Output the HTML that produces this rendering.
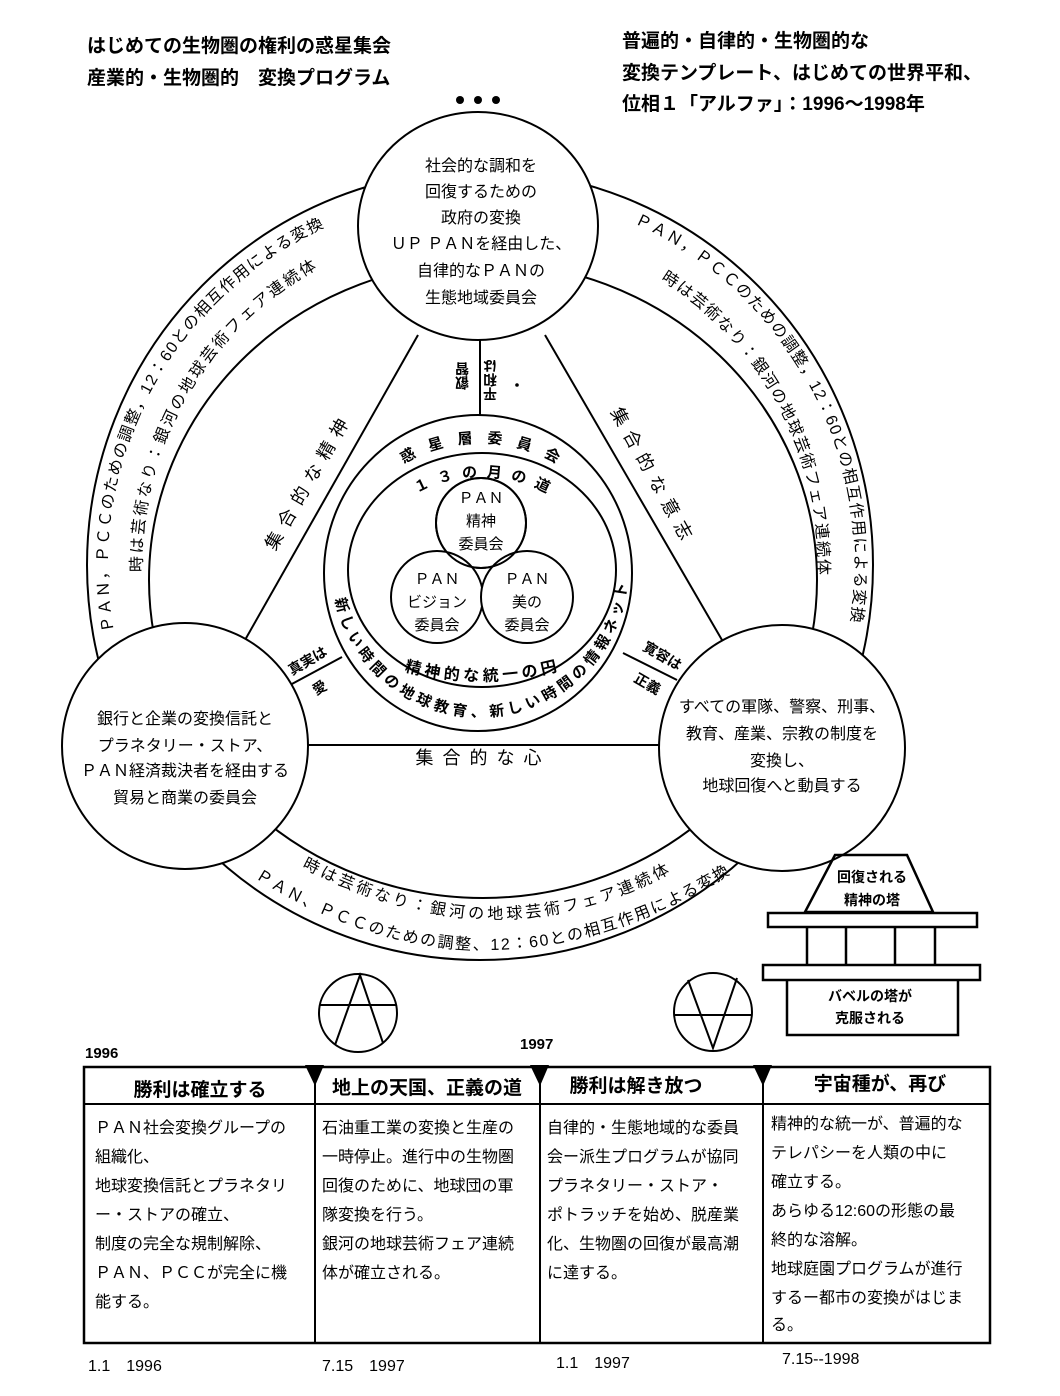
<!DOCTYPE html>
<html><head><meta charset="utf-8"><style>
html,body{margin:0;padding:0;background:#fff;}
svg{display:block;}
text{font-family:"Liberation Sans","Noto Sans CJK JP",sans-serif;fill:#000;}
.b{font-weight:bold;}
</style></head><body>
<svg width="1060" height="1396" viewBox="0 0 1060 1396" xmlns="http://www.w3.org/2000/svg">
<defs>
<path id="lo" d="M114.8,636 A372,372 0 0 1 328.7,225.2"/>
<path id="li" d="M142.2,576.8 A338,338 0 0 1 321.3,266.6"/>
<path id="ro" d="M629.5,221.1 A375,375 0 0 1 849.9,626.9"/>
<path id="ri" d="M656.6,276.8 A338,338 0 0 1 817.7,579.7"/>
<path id="bi" d="M300,866 Q494,969 672,872"/>
<path id="bo" d="M252,876 Q487,1026 733,872"/>
<path id="mb" d="M334.2,594.7 A148,148 0 0 0 627.6,579.3"/>
<path id="wk" d="M393.8,470.1 A140,128 0 0 1 566.2,470.1"/>
<path id="m13" d="M411.2,496.7 A115,93 0 0 1 552.8,496.7"/>
<path id="sei" d="M400,670 Q480,692 562,670"/>
</defs>

<!-- header -->
<g class="b" font-size="19">
<text x="87" y="52">はじめての生物圏の権利の惑星集会</text>
<text x="87" y="84">産業的・生物圏的　変換プログラム</text>
<text x="622" y="47">普遍的・自律的・生物圏的な</text>
<text x="622" y="79">変換テンプレート、はじめての世界平和、</text>
<text x="622" y="110">位相１「アルファ」：1996～1998年</text>
</g>
<circle cx="460" cy="100" r="4"/><circle cx="478" cy="100" r="4"/><circle cx="496" cy="100" r="4"/>

<!-- rings -->
<g fill="none" stroke="#000" stroke-width="2">
<ellipse cx="480" cy="565" rx="393" ry="395"/>
<ellipse cx="483" cy="580" rx="334" ry="318"/>
<line x1="418" y1="335" x2="245" y2="640"/>
<line x1="545" y1="335" x2="722" y2="640"/>
<line x1="305" y1="745" x2="660" y2="745"/>
<line x1="480" y1="340" x2="480" y2="416"/>
<line x1="290" y1="685" x2="342" y2="657"/>
<line x1="623" y1="653" x2="677" y2="680"/>
</g>

<!-- ring texts -->
<g font-size="16">
<text><textPath href="#lo" startOffset="50%" text-anchor="middle" textLength="490" lengthAdjust="spacing">ＰＡＮ，ＰＣＣのための調整，12：60との相互作用による変換</textPath></text>
<text><textPath href="#li" startOffset="50%" text-anchor="middle" textLength="368" lengthAdjust="spacing">時は芸術なり：銀河の地球芸術フェア連続体</textPath></text>
<text><textPath href="#ro" startOffset="50%" text-anchor="middle" textLength="487" lengthAdjust="spacing">ＰＡＮ，ＰＣＣのための調整，12：60との相互作用による変換</textPath></text>
<text><textPath href="#ri" startOffset="50%" text-anchor="middle" textLength="350" lengthAdjust="spacing">時は芸術なり：銀河の地球芸術フェア連続体</textPath></text>
<text><textPath href="#bi" startOffset="50%" text-anchor="middle" textLength="385" lengthAdjust="spacing">時は芸術なり：銀河の地球芸術フェア連続体</textPath></text>
<text><textPath href="#bo" startOffset="50%" text-anchor="middle" textLength="505" lengthAdjust="spacing">ＰＡＮ、ＰＣＣのための調整、12：60との相互作用による変換</textPath></text>
</g>

<!-- circles -->
<g fill="#fff" stroke="#000" stroke-width="2">
<ellipse cx="478" cy="226" rx="120" ry="114"/>
<circle cx="185" cy="746" r="123"/>
<circle cx="782" cy="748" r="123"/>
<ellipse cx="478" cy="573" rx="154" ry="158"/>
<ellipse cx="482" cy="570" rx="134" ry="117"/>
<circle cx="481" cy="523" r="45"/>
<circle cx="437" cy="597" r="46"/>
<circle cx="527" cy="597" r="46"/>
</g>
<circle cx="481" cy="523" r="45" fill="none" stroke="#000" stroke-width="2"/>

<g font-size="16" text-anchor="middle">
<text x="481" y="171">社会的な調和を</text>
<text x="481" y="197">回復するための</text>
<text x="481" y="223">政府の変換</text>
<text x="481" y="249">ＵＰ ＰＡＮを経由した、</text>
<text x="481" y="276">自律的なＰＡＮの</text>
<text x="481" y="303">生態地域委員会</text>
<text x="185" y="724">銀行と企業の変換信託と</text>
<text x="185" y="751">プラネタリー・ストア、</text>
<text x="185" y="776">ＰＡＮ経済裁決者を経由する</text>
<text x="185" y="803">貿易と商業の委員会</text>
<text x="782" y="712">すべての軍隊、警察、刑事、</text>
<text x="782" y="739">教育、産業、宗教の制度を</text>
<text x="782" y="766">変換し、</text>
<text x="782" y="791">地球回復へと動員する</text>
</g>
<g font-size="15" text-anchor="middle">
<text x="481" y="503">ＰＡＮ</text><text x="481" y="526">精神</text><text x="481" y="549">委員会</text>
<text x="437" y="584">ＰＡＮ</text><text x="437" y="607">ビジョン</text><text x="437" y="630">委員会</text>
<text x="527" y="584">ＰＡＮ</text><text x="527" y="607">美の</text><text x="527" y="630">委員会</text>
</g>

<!-- middle ring texts -->
<g font-size="15" class="b">
<text><textPath href="#wk" startOffset="50%" text-anchor="middle" textLength="160" lengthAdjust="spacing">惑星層委員会</textPath></text>
<text><textPath href="#m13" startOffset="50%" text-anchor="middle" textLength="135" lengthAdjust="spacing">１３の月の道</textPath></text>
<text><textPath href="#mb" startOffset="50%" text-anchor="middle" textLength="420" lengthAdjust="spacing">新しい時間の地球教育、新しい時間の情報ネット</textPath></text>
<text font-size="16"><textPath href="#sei" startOffset="50%" text-anchor="middle" textLength="155" lengthAdjust="spacing">精神的な統一の円</textPath></text>
</g>

<!-- line labels -->
<g font-size="18">
<text x="314" y="484" text-anchor="middle" transform="rotate(-60 314 484)" letter-spacing="8">集合的な精神</text>
<text x="648" y="480" text-anchor="middle" transform="rotate(61 648 480)" letter-spacing="8">集合的な意志</text>
<text x="483" y="764" text-anchor="middle" letter-spacing="9">集合的な心</text>
</g>
<g font-size="14" class="b">
<text x="310" y="665" text-anchor="middle" transform="rotate(-30 310 665)">真実は</text>
<text x="322" y="692" text-anchor="middle" transform="rotate(-30 322 692)">愛</text>
<text x="660" y="660" text-anchor="middle" transform="rotate(30 660 660)">寛容は</text>
<text x="645" y="688" text-anchor="middle" transform="rotate(30 645 688)">正義</text>
<text transform="translate(462,376) rotate(180)" text-anchor="middle" style="writing-mode:vertical-rl" >叡智</text>
<text transform="translate(490,380) rotate(180)" text-anchor="middle" style="writing-mode:vertical-rl">平和は</text>
</g>
<circle cx="517" cy="385" r="1.8"/>

<!-- tower -->
<g fill="none" stroke="#000" stroke-width="2.5">
<polygon points="835,855 907,855 933,912 805,912"/>
<rect x="768" y="913" width="209" height="14"/>
<line x1="807" y1="927" x2="807" y2="965"/><line x1="846" y1="927" x2="846" y2="965"/>
<line x1="895" y1="927" x2="895" y2="965"/><line x1="935" y1="927" x2="935" y2="965"/>
<rect x="763" y="965" width="217" height="15"/>
<polyline points="787,980 787,1035 958,1035 958,980"/>
</g>
<g font-size="14" class="b" text-anchor="middle">
<text x="872" y="882">回復される</text><text x="872" y="905">精神の塔</text>
<text x="870" y="1001">バベルの塔が</text><text x="870" y="1023">克服される</text>
</g>

<!-- symbols -->
<g fill="none" stroke="#000" stroke-width="2">
<circle cx="358" cy="1013" r="39"/>
<polyline points="335,1045 360,975 383,1043"/>
<line x1="320" y1="1005" x2="397" y2="1005"/>
<circle cx="713" cy="1012" r="39"/>
<polyline points="688,980 713,1048 737,978"/>
<line x1="674" y1="1015" x2="752" y2="1015"/>
</g>

<!-- table -->
<g font-size="15" class="b">
<text x="85" y="1058">1996</text>
<text x="520" y="1049">1997</text>
</g>
<g fill="none" stroke="#000">
<rect x="84" y="1067" width="906" height="276" stroke-width="2.5"/>
<line x1="84" y1="1104" x2="990" y2="1104" stroke-width="2"/>
<line x1="315" y1="1067" x2="315" y2="1343" stroke-width="2"/>
<line x1="540" y1="1067" x2="540" y2="1343" stroke-width="2"/>
<line x1="763" y1="1067" x2="763" y2="1343" stroke-width="2"/>
</g>
<g>
<polygon points="305,1065 324,1065 315,1086"/>
<polygon points="530,1065 549,1065 540,1086"/>
<polygon points="753,1065 772,1065 763,1086"/>
</g>
<g font-size="19" class="b" text-anchor="middle">
<text x="200" y="1096">勝利は確立する</text>
<text x="427" y="1094">地上の天国、正義の道</text>
<text x="636" y="1092">勝利は解き放つ</text>
<text x="880" y="1090">宇宙種が、再び</text>
</g>
<g font-size="16">
<text x="95" y="1133">ＰＡＮ社会変換グループの</text>
<text x="95" y="1162">組織化、</text>
<text x="95" y="1191">地球変換信託とプラネタリ</text>
<text x="95" y="1220">ー・ストアの確立、</text>
<text x="95" y="1249">制度の完全な規制解除、</text>
<text x="95" y="1278">ＰＡＮ、ＰＣＣが完全に機</text>
<text x="95" y="1307">能する。</text>
<text x="322" y="1133">石油重工業の変換と生産の</text>
<text x="322" y="1162">一時停止。進行中の生物圏</text>
<text x="322" y="1191">回復のために、地球団の軍</text>
<text x="322" y="1220">隊変換を行う。</text>
<text x="322" y="1249">銀河の地球芸術フェア連続</text>
<text x="322" y="1278">体が確立される。</text>
<text x="547" y="1133">自律的・生態地域的な委員</text>
<text x="547" y="1162">会ー派生プログラムが協同</text>
<text x="547" y="1191">プラネタリー・ストア・</text>
<text x="547" y="1220">ポトラッチを始め、脱産業</text>
<text x="547" y="1249">化、生物圏の回復が最高潮</text>
<text x="547" y="1278">に達する。</text>
<text x="771" y="1129">精神的な統一が、普遍的な</text>
<text x="771" y="1158">テレパシーを人類の中に</text>
<text x="771" y="1187">確立する。</text>
<text x="771" y="1216">あらゆる12:60の形態の最</text>
<text x="771" y="1245">終的な溶解。</text>
<text x="771" y="1274">地球庭園プログラムが進行</text>
<text x="771" y="1303">するー都市の変換がはじま</text>
<text x="771" y="1330">る。</text>
</g>
<g font-size="16">
<text x="88" y="1371">1.1　1996</text>
<text x="322" y="1371">7.15　1997</text>
<text x="556" y="1368">1.1　1997</text>
<text x="782" y="1364">7.15--1998</text>
</g>
</svg>
</body></html>
